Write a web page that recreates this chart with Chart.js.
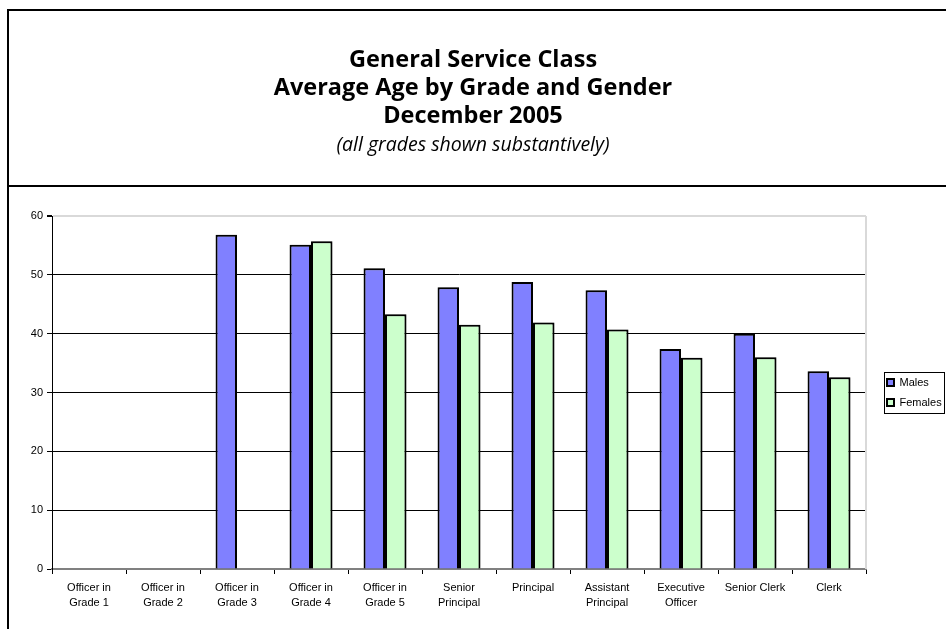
<!DOCTYPE html>
<html><head><meta charset="utf-8">
<script src="https://cdn.jsdelivr.net/npm/chart.js@4"></script>
<style>
html,body{margin:0;padding:0;background:#fff;overflow:hidden}
#wrap{position:relative;width:946px;height:629px}
#topbox{position:absolute;left:7px;top:9px;width:960px;height:174px;border:2px solid #000;}
#lowbox{position:absolute;left:7px;top:185px;width:960px;height:700px;border-left:2px solid #000;}
canvas{position:absolute;left:0;top:0}
</style></head>
<body>
<div id="wrap">
<div id="topbox"></div>
<div id="lowbox"></div>
<canvas id="c" width="946" height="629"></canvas>
</div>
<script>
const categories = [["Officer in","Grade 1"],["Officer in","Grade 2"],["Officer in","Grade 3"],["Officer in","Grade 4"],["Officer in","Grade 5"],["Senior","Principal"],"Principal",["Assistant","Principal"],["Executive","Officer"],"Senior Clerk","Clerk"];
const males = [null,null,56.8,55.1,51.1,47.9,48.8,47.4,37.4,40.0,33.6];
const females = [null,null,null,55.7,43.3,41.5,41.9,40.7,35.9,36.0,32.6];
const titleLines = ["General Service Class","Average Age by Grade and Gender","December 2005"];
const subtitleText = "(all grades shown substantively)";
const seriesNames = ["Males","Females"];

const plotFrame = {
  id:'plotFrame',
  afterInit(chart){
    const lg = chart.legend;
    if(!lg) return;
    const orig = lg.fit.bind(lg);
    lg.fit = function(){ orig(); if(!this.isHorizontal()) this.width = 80; };
  },
  afterLayout(chart){
    const lg = chart.legend;
    if(lg){ lg.left += 12; lg.right += 12; }
  },
  beforeDatasetsDraw(chart){
    const {ctx, chartArea:a} = chart;
    ctx.save();
    ctx.strokeStyle='#d9d9d9'; ctx.lineWidth=2;
    ctx.beginPath(); ctx.moveTo(a.right, a.top); ctx.lineTo(a.right, a.bottom); ctx.stroke();
    ctx.restore();
    ctx.save();
    ctx.shadowColor='rgba(0,0,0,0.3)'; ctx.shadowBlur=2; ctx.shadowOffsetX=1; ctx.shadowOffsetY=0;
  },
  afterDatasetsDraw(chart){ chart.ctx.restore(); },
  afterDraw(chart){
    const lg = chart.legend; if(!lg || !lg.legendHitBoxes.length) return;
    const hb = lg.legendHitBoxes;
    let l=Infinity,t=Infinity,r=-Infinity,b=-Infinity;
    hb.forEach(h=>{l=Math.min(l,h.left);t=Math.min(t,h.top);r=Math.max(r,h.left+h.width);b=Math.max(b,h.top+h.height);});
    const ctx=chart.ctx; ctx.save(); ctx.strokeStyle='#000'; ctx.lineWidth=1;
    ctx.strokeRect(Math.round(l-3)+0.5, Math.round(t-5)+0.5, Math.max(Math.round(r-l+5), 944-Math.round(l-3)-1), Math.round(b-t+10));
    ctx.restore();
  }
};

new Chart(document.getElementById('c'), {
  type:'bar',
  data:{
    labels: categories,
    datasets:[
      {label:seriesNames[0], data:males, backgroundColor:'#8080ff', borderColor:'#000', borderWidth:2, barPercentage:1, categoryPercentage:0.58},
      {label:seriesNames[1], data:females, backgroundColor:'#ccffcc', borderColor:'#000', borderWidth:2, barPercentage:1, categoryPercentage:0.58}
    ]
  },
  options:{
    responsive:false, animation:false,
    layout:{padding:{left:0,right:0,top:0,bottom:0}},
    plugins:{
      title:{display:true, text:titleLines, color:'#000', font:{family:'Open Sans', weight:'bold', size:23.5, lineHeight:'28px'}, padding:{top:46,bottom:0}},
      subtitle:{display:true, text:subtitleText, color:'#000', font:{family:'Open Sans', style:'italic', size:19.5, lineHeight:'22px'}, padding:{top:4,bottom:60}},
      legend:{position:'right', align:'center', fullSize:false, labels:{boxWidth:7, boxHeight:7, padding:9, color:'#000', font:{family:'Liberation Sans', size:11}}},
      tooltip:{enabled:false}
    },
    scales:{
      x:{
        grid:{drawOnChartArea:false, tickLength:5, tickColor:'#000', offset:true},
        border:{color:'#808080', width:2},
        ticks:{color:'#000', maxRotation:0, autoSkip:false, padding:6, font:{family:'Liberation Sans', size:11, lineHeight:'15px'}},
        afterFit(s){ s.height = 60; }
      },
      y:{
        min:0, max:60,
        ticks:{stepSize:10, color:'#000', padding:4, font:{family:'Liberation Sans', size:11}},
        grid:{tickLength:5, tickColor:'#000',
          color:c=> c.tick.value===60 ? '#d9d9d9' : (c.tick.value===0 ? '#808080' : '#000'),
          lineWidth:c=> c.tick.value===60 ? 2 : 1},
        border:{color:'#000', width:1},
        afterFit(s){ s.width = 52; }
      }
    }
  },
  plugins:[plotFrame]
});
</script>
</body></html>
